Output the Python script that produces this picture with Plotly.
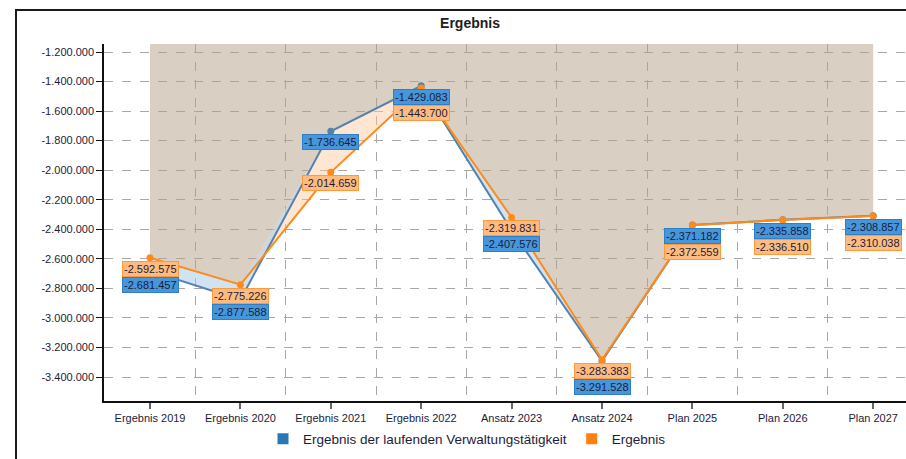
import plotly.graph_objects as go

categories = ["Ergebnis 2019", "Ergebnis 2020", "Ergebnis 2021", "Ergebnis 2022",
              "Ansatz 2023", "Ansatz 2024", "Plan 2025", "Plan 2026", "Plan 2027"]
verwaltung = [-2681457, -2877588, -1736645, -1429083, -2407576,
              -3291528, -2371182, -2335858, -2308857]
ergebnis = [-2592575, -2775226, -2014659, -1443700, -2319831,
            -3283383, -2372559, -2336510, -2310038]
y_ticks = [-1200000 - 200000 * k for k in range(12)]

BLUE_LINE = "#5283ad"
ORANGE_LINE = "#ff8a1c"
FONT = "Liberation Sans, Arial, sans-serif"
TXT = "#1c1c3a"

Y_LO, Y_HI = -3562500, -1145800
X_LO, X_HI = -0.509, 8.363
M_L, M_R, M_T, M_B = 104, 0, 44, 58
W, H = 906, 459


def fmt(v):
    s = f"{abs(v):,}".replace(",", ".")
    return ("-" if v < 0 else "") + s


x = list(range(len(categories)))
upper = [max(a, b) for a, b in zip(verwaltung, ergebnis)]

fig = go.Figure()

# tan area from the top down to the upper line
fig.add_trace(go.Scatter(x=x, y=[Y_HI] * len(x), mode="lines", line={"width": 0},
                         showlegend=False, hoverinfo="skip"))
fig.add_trace(go.Scatter(x=x, y=upper, mode="lines", line={"width": 0}, fill="tonexty",
                         fillcolor="rgba(179,159,133,0.5)", showlegend=False, hoverinfo="skip"))

# range fill between the two series
fig.add_trace(go.Scatter(x=x, y=upper, mode="lines", line={"width": 0},
                         showlegend=False, hoverinfo="skip"))
fig.add_trace(go.Scatter(x=x, y=ergebnis, mode="lines", line={"width": 0}, fill="tonexty",
                         fillcolor="rgba(255,200,155,0.45)", showlegend=False, hoverinfo="skip"))
fig.add_trace(go.Scatter(x=x, y=upper, mode="lines", line={"width": 0},
                         showlegend=False, hoverinfo="skip"))
fig.add_trace(go.Scatter(x=x, y=verwaltung, mode="lines", line={"width": 0}, fill="tonexty",
                         fillcolor="rgba(160,200,232,0.5)", showlegend=False, hoverinfo="skip"))

# lines
fig.add_trace(go.Scatter(x=x, y=verwaltung, mode="lines+markers",
                         line={"color": BLUE_LINE, "width": 2},
                         marker={"color": BLUE_LINE, "size": 7}, showlegend=False))
fig.add_trace(go.Scatter(x=x, y=ergebnis, mode="lines+markers",
                         line={"color": ORANGE_LINE, "width": 2},
                         marker={"color": ORANGE_LINE, "size": 7}, showlegend=False))

# legend entries as squares
fig.add_trace(go.Scatter(x=[None], y=[None], mode="markers", name="Ergebnis der laufenden Verwaltungstätigkeit",
                         marker={"symbol": "square", "size": 11, "color": "#2878b8"}))
fig.add_trace(go.Scatter(x=[None], y=[None], mode="markers", name="Ergebnis",
                         marker={"symbol": "square", "size": 11, "color": "#ff8010"}))

# data labels, stacked below the points
ppu = (H - M_T - M_B) / (Y_HI - Y_LO)
BOX = {
    "blue": {"bgcolor": "#4596db", "bordercolor": "#2f7fc6"},
    "orange": {"bgcolor": "#ffbb80", "bordercolor": "#ff9a3c"},
}
for i in x:
    b, o = verwaltung[i], ergebnis[i]
    if b >= o:
        hi, lo = (b, "blue"), (o, "orange")
    else:
        hi, lo = (o, "orange"), (b, "blue")
    gap = (hi[0] - lo[0]) * ppu
    lo_off = max(11, 27 - gap)
    for (val, key), off in ((hi, 11), (lo, lo_off)):
        fig.add_annotation(x=i, y=val, text=fmt(val), showarrow=False, yshift=-off,
                           font={"family": FONT, "size": 11, "color": TXT},
                           borderwidth=1, borderpad=1, **BOX[key])

# outer frame
fig.add_shape(type="rect", xref="paper", yref="paper",
              x0=(16 - M_L) / (W - M_L - M_R), x1=1.05,
              y0=-0.3, y1=(H - M_B - 10) / (H - M_T - M_B),
              line={"color": "#1a1a1a", "width": 2})

fig.update_layout(
    width=W, height=H,
    margin={"l": M_L, "r": M_R, "t": M_T, "b": M_B},
    paper_bgcolor="white", plot_bgcolor="white",
    font={"family": FONT, "size": 11, "color": TXT},
    title={"text": "<b>Ergebnis</b>", "x": 470 / W, "xref": "container", "xanchor": "center",
           "y": 1 - 23 / H, "yref": "container", "yanchor": "middle",
           "font": {"family": FONT, "size": 14, "color": "#202020"}},
    legend={"orientation": "h", "xref": "container", "yref": "container", "traceorder": "normal",
            "x": 467 / W, "xanchor": "center", "y": 1 - 439 / H, "yanchor": "middle",
            "font": {"family": FONT, "size": 13.5, "color": TXT}, "itemwidth": 30},
    xaxis={"range": [X_LO, X_HI], "tickvals": x, "ticktext": categories,
           "showgrid": False, "zeroline": False, "showline": True, "linecolor": "#111",
           "linewidth": 1.5, "ticks": "outside", "ticklen": 6, "tickcolor": "#666",
           "tickwidth": 1.5,
           "minor": {"tickvals": [i + 0.5 for i in x], "showgrid": True, "gridcolor": "#a8a8a8",
                     "griddash": "dash", "gridwidth": 1, "ticks": ""}},
    yaxis={"range": [Y_LO, Y_HI], "tickvals": y_ticks, "ticktext": [fmt(v) for v in y_ticks],
           "showgrid": True, "gridcolor": "#a8a8a8", "griddash": "dash", "zeroline": False,
           "showline": True, "linecolor": "#111", "linewidth": 1.5, "ticks": "outside",
           "ticklen": 6, "tickcolor": "#111"},
)

fig.write_html("out.html", config={"displayModeBar": False},
               post_script="document.body.style.margin='0';")
